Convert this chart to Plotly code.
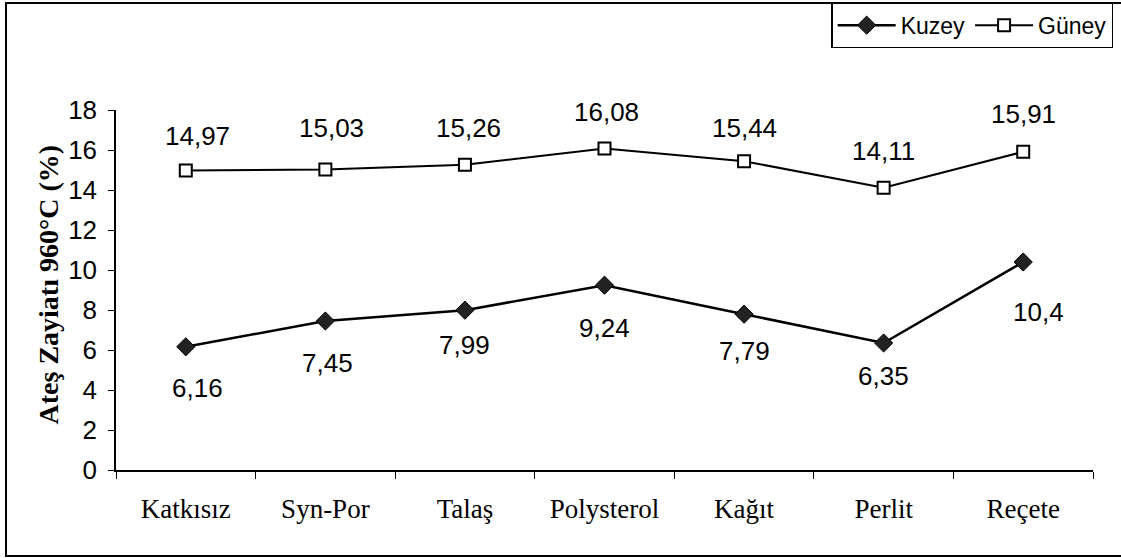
import plotly.graph_objects as go

categories = ["Katkısız", "Syn-Por", "Talaş", "Polysterol", "Kağıt", "Perlit", "Reçete"]
kuzey = [6.16, 7.45, 7.99, 9.24, 7.79, 6.35, 10.4]
guney = [14.97, 15.03, 15.26, 16.08, 15.44, 14.11, 15.91]
kuzey_labels = ["6,16", "7,45", "7,99", "9,24", "7,79", "6,35", "10,4"]
guney_labels = ["14,97", "15,03", "15,26", "16,08", "15,44", "14,11", "15,91"]
y_ticks = [0, 2, 4, 6, 8, 10, 12, 14, 16, 18]

# label offsets in pixels (style only)
kuzey_dy = [-41, -42, -35, -43, -37, -33, -50]
kuzey_dx = [12, 2, 0, 0, 0, 0, 15]
guney_dy = [35, 41, 37, 36, 33, 37, 38]
guney_dx = [12, 6, 4, 2, 0, 0, 0]

fig = go.Figure()
fig.add_trace(go.Scatter(
    x=categories, y=kuzey, name="Kuzey", mode="lines+markers",
    line=dict(color="black", width=2.5),
    marker=dict(symbol="diamond", size=14, color="#222", line=dict(color="black", width=1)),
))
fig.add_trace(go.Scatter(
    x=categories, y=guney, name="Güney", mode="lines+markers",
    line=dict(color="black", width=2),
    marker=dict(symbol="square", size=12, color="white", line=dict(color="black", width=2)),
))

label_font = dict(family="Liberation Sans, Arial", size=26, color="black")
for i, c in enumerate(categories):
    fig.add_annotation(x=c, y=kuzey[i], text=kuzey_labels[i], showarrow=False,
                       yshift=kuzey_dy[i], xshift=kuzey_dx[i], font=label_font)
    fig.add_annotation(x=c, y=guney[i], text=guney_labels[i], showarrow=False,
                       yshift=guney_dy[i], xshift=guney_dx[i], font=label_font)

# y-axis title
fig.add_annotation(xref="paper", yref="paper", x=-0.087, y=0.514,
                   text="<b>Ateş Zayiatı 960°C (%)</b>", textangle=-90, showarrow=False,
                   font=dict(family="Liberation Serif, Times New Roman", size=28, color="black"))

# outer chart border
fig.add_shape(type="rect", xref="paper", yref="paper",
              x0=(6 - 116) / 977, x1=(1128 - 116) / 977,
              y0=(470 - 556) / 360, y1=(470 - 3) / 360,
              line=dict(color="black", width=2), fillcolor="rgba(0,0,0,0)", layer="below")

fig.update_layout(
    width=1121, height=558,
    margin=dict(l=116, r=28, t=110, b=88),
    paper_bgcolor="white", plot_bgcolor="white",
    showlegend=True,
    legend=dict(orientation="h", xref="container", yref="container",
                x=0.993, xanchor="right", y=0.996, yanchor="top",
                bordercolor="black", borderwidth=1.5, bgcolor="white",
                font=dict(family="Liberation Sans, Arial", size=23, color="black"),
                itemwidth=58, tracegroupgap=0),
    xaxis=dict(type="category", range=[-0.5, 6.5], showgrid=False, zeroline=False,
               showline=True, linecolor="black", linewidth=1.5,
               ticks="outside", tickson="boundaries", ticklen=7, tickcolor="black",
               ticklabelstandoff=14,
               tickfont=dict(family="Liberation Serif, Times New Roman", size=27, color="black")),
    yaxis=dict(range=[0, 18], tickvals=y_ticks, showgrid=False, zeroline=False,
               showline=True, linecolor="black", linewidth=1.5,
               ticks="outside", ticklen=6, tickcolor="black",
               ticklabelstandoff=6,
               tickfont=dict(family="Liberation Sans, Arial", size=26, color="black")),
)

fig.write_html("out.html", config={"displayModeBar": False},
               post_script="document.body.style.margin='0';")
